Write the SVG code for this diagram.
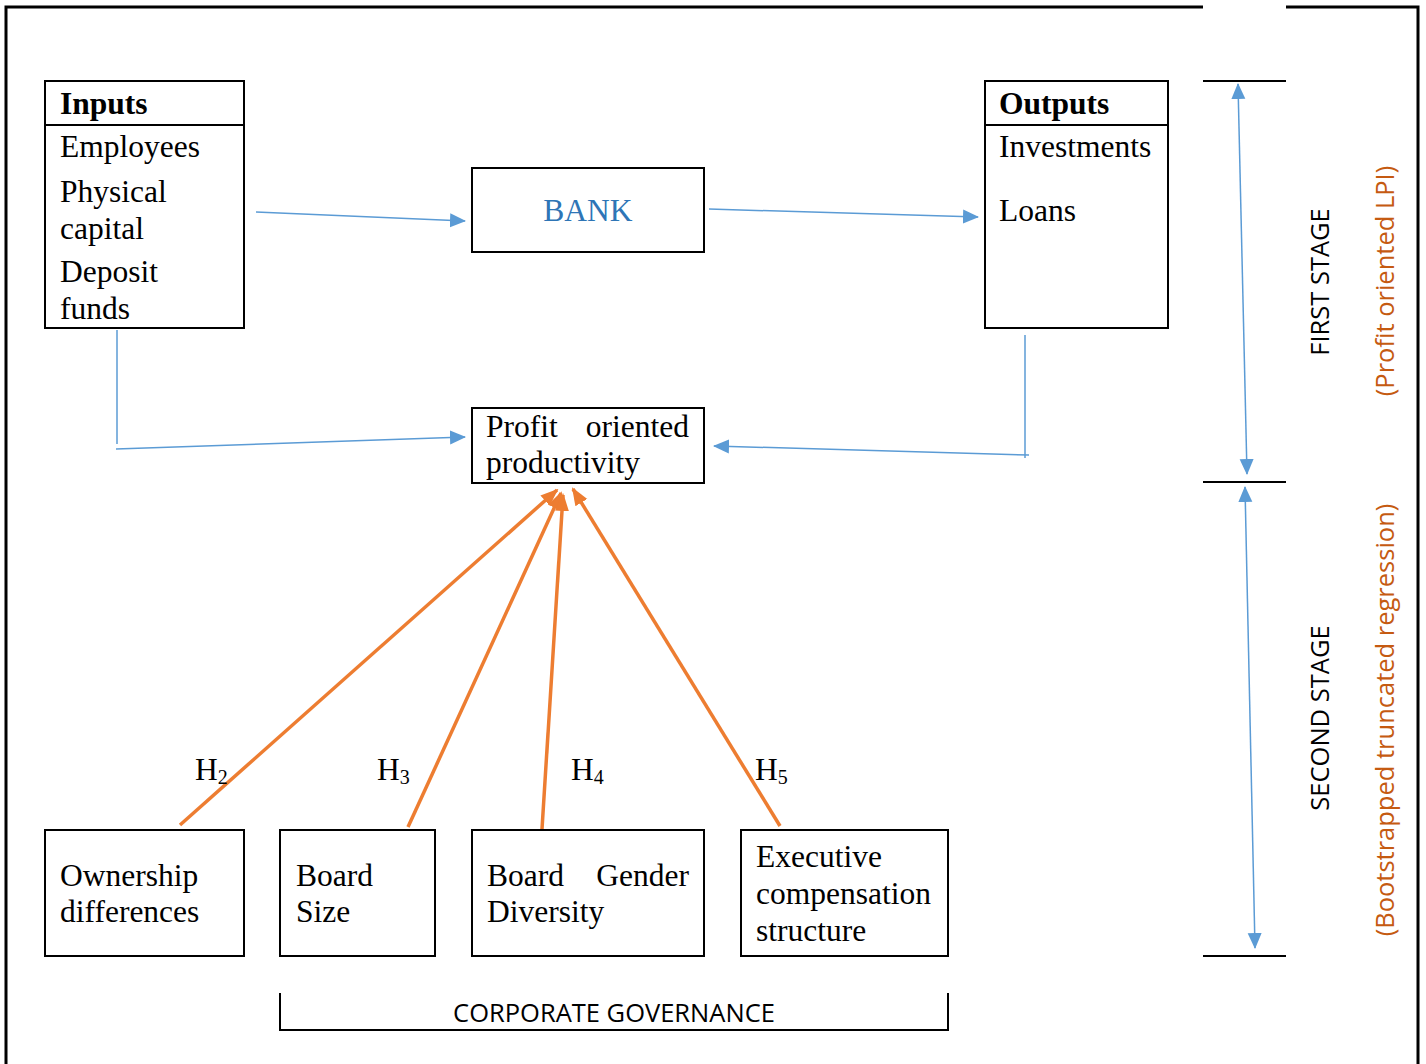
<svg xmlns="http://www.w3.org/2000/svg" width="1426" height="1064" viewBox="0 0 1426 1064">
<defs>
<marker id="ab" markerUnits="userSpaceOnUse" markerWidth="16" markerHeight="16" viewBox="0 0 16 16" refX="15" refY="8" orient="auto-start-reverse"><path d="M0,1 L16,8 L0,15 Z" fill="#5B9BD5"/></marker>
<marker id="ao" markerUnits="userSpaceOnUse" markerWidth="18" markerHeight="16" viewBox="0 0 18 16" refX="16" refY="8" orient="auto"><path d="M0,1 L18,8 L0,15 Z" fill="#ED7D31"/></marker>
</defs>
<style>
.box{fill:#fff;stroke:#000;stroke-width:2}
.t{font-family:"Liberation Serif","Times New Roman",serif;font-size:31.5px;fill:#000}
.b{font-weight:bold}
.s{font-family:"Open Sans","Liberation Sans",sans-serif;font-size:25.5px;fill:#000}
.or{fill:#C55A11}
.bl{stroke:#5B9BD5;stroke-width:1.5;fill:none}
.ol{stroke:#ED7D31;stroke-width:3.5;fill:none}
.k{stroke:#000;stroke-width:2;fill:none}
</style>
<rect width="1426" height="1064" fill="#fff"/>
<g id="frame">
<path d="M6,1064 V7 H1203 M1286,7 H1418 V1064" stroke="#000" stroke-width="3" fill="none"/>
</g>
<g id="inputs">
<rect class="box" x="45" y="81" width="199" height="247"/>
<line class="k" x1="45" y1="125" x2="244" y2="125"/>
<text class="t b" x="60" y="114">Inputs</text>
<text class="t" x="60" y="157">Employees</text>
<text class="t" x="60" y="202">Physical</text>
<text class="t" x="60" y="239">capital</text>
<text class="t" x="60" y="282">Deposit</text>
<text class="t" x="60" y="319">funds</text>
</g>
<g id="bank">
<rect class="box" x="472" y="168" width="232" height="84"/>
<text class="t" x="588" y="221" text-anchor="middle" style="fill:#2E75B6">BANK</text>
</g>
<g id="outputs">
<rect class="box" x="985" y="81" width="183" height="247"/>
<line class="k" x1="985" y1="125" x2="1168" y2="125"/>
<text class="t b" x="999" y="114">Outputs</text>
<text class="t" x="999" y="157">Investments</text>
<text class="t" x="999" y="221">Loans</text>
</g>
<g id="profit">
<rect class="box" x="472" y="408" width="232" height="75"/>
<text class="t" x="486" y="437">Profit</text>
<text class="t" x="689" y="437" text-anchor="end">oriented</text>
<text class="t" x="486" y="473">productivity</text>
</g>
<g id="ownership">
<rect class="box" x="45" y="830" width="199" height="126"/>
<text class="t" x="60" y="886">Ownership</text>
<text class="t" x="60" y="922">differences</text>
</g>
<g id="boardsize">
<rect class="box" x="280" y="830" width="155" height="126"/>
<text class="t" x="296" y="886">Board</text>
<text class="t" x="296" y="922">Size</text>
</g>
<g id="gender">
<rect class="box" x="472" y="830" width="232" height="126"/>
<text class="t" x="487" y="886">Board</text>
<text class="t" x="689" y="886" text-anchor="end">Gender</text>
<text class="t" x="487" y="922">Diversity</text>
</g>
<g id="executive">
<rect class="box" x="741" y="830" width="207" height="126"/>
<text class="t" x="756" y="867">Executive</text>
<text class="t" x="756" y="904">compensation</text>
<text class="t" x="756" y="941">structure</text>
</g>
<g id="governance">
<path class="k" d="M280,993 V1030 H948 V993"/>
<text class="s" x="614" y="1022" text-anchor="middle">CORPORATE GOVERNANCE</text>
</g>
<g id="stages">
<line class="k" x1="1203" y1="81" x2="1286" y2="81"/>
<line class="k" x1="1203" y1="482" x2="1286" y2="482"/>
<line class="k" x1="1203" y1="956" x2="1286" y2="956"/>
<text class="s" transform="translate(1329,282) rotate(-90)" text-anchor="middle">FIRST STAGE</text>
<text class="s or" transform="translate(1394,281) rotate(-90)" text-anchor="middle">(Profit oriented LPI)</text>
<text class="s" transform="translate(1329,718) rotate(-90)" text-anchor="middle">SECOND STAGE</text>
<text class="s or" transform="translate(1394,720) rotate(-90)" text-anchor="middle">(Bootstrapped truncated regression)</text>
</g>
<g id="connectors">
<line class="bl" x1="256" y1="212" x2="465" y2="221" marker-end="url(#ab)"/>
<line class="bl" x1="709" y1="209" x2="978" y2="217" marker-end="url(#ab)"/>
<line class="bl" x1="117" y1="330" x2="117" y2="444"/>
<line class="bl" x1="116" y1="449" x2="465" y2="437" marker-end="url(#ab)"/>
<line class="bl" x1="1025" y1="335" x2="1025" y2="458"/>
<line class="bl" x1="1029" y1="455" x2="714" y2="446" marker-end="url(#ab)"/>
<line class="bl" x1="1238" y1="84" x2="1247" y2="474" marker-start="url(#ab)" marker-end="url(#ab)"/>
<line class="bl" x1="1245" y1="487" x2="1255" y2="948" marker-start="url(#ab)" marker-end="url(#ab)"/>
<line class="ol" x1="180" y1="825" x2="557" y2="490" marker-end="url(#ao)"/>
<line class="ol" x1="408" y1="827" x2="561" y2="493" marker-end="url(#ao)"/>
<line class="ol" x1="542" y1="829" x2="563" y2="495" marker-end="url(#ao)"/>
<line class="ol" x1="780" y1="826" x2="573" y2="489" marker-end="url(#ao)"/>
</g>
<g id="labels">
<text class="t" x="195" y="780">H<tspan font-size="20" dy="4">2</tspan></text>
<text class="t" x="377" y="780">H<tspan font-size="20" dy="4">3</tspan></text>
<text class="t" x="571" y="780">H<tspan font-size="20" dy="4">4</tspan></text>
<text class="t" x="755" y="780">H<tspan font-size="20" dy="4">5</tspan></text>
</g>
</svg>
